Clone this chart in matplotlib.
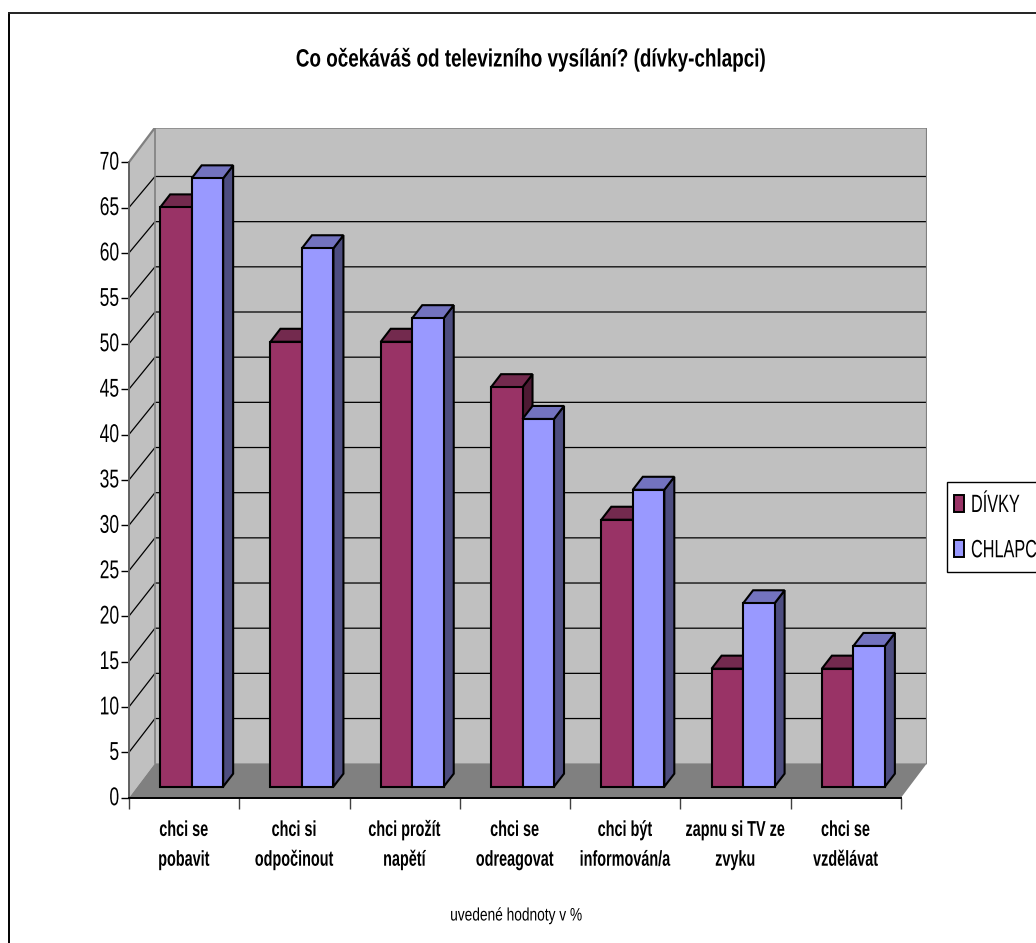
import matplotlib
matplotlib.use('Agg')
import matplotlib.pyplot as plt
from matplotlib.patches import Polygon, Patch, Rectangle
from matplotlib.patheffects import AbstractPathEffect
from matplotlib.transforms import Affine2D

categories = ['chci se\npobavit', 'chci si\nodpočinout', 'chci prožít\nnapětí', 'chci se\nodreagovat',
              'chci být\ninformován/a', 'zapnu si TV ze\nzvyku', 'chci se\nvzdělávat']
divky = [63.8, 49, 49, 44, 29.4, 13, 13]
chlapci = [67, 59.3, 51.6, 40.5, 32.7, 20.2, 15.5]
yticks = list(range(0, 75, 5))
series_names = ['DÍVKY', 'CHLAPCI']

plt.rcParams['font.family'] = ['Liberation Sans']

W, H = 1036, 943
# px per category and per unit on the front plane
px_x = 110.29
px_y = 9.08
left, bottom = 129, 797.7
right_back, top_back = 927, 128


class Squeeze(AbstractPathEffect):
    # Arial Narrow is not installed, so squeeze Liberation Sans sideways around x = cx (px)
    def __init__(self, sx, cx, dy=0):
        super().__init__()
        self.sx, self.cx, self.dy = sx, cx, dy

    def draw_path(self, renderer, gc, tpath, affine, rgbFace=None):
        t = Affine2D().translate(-self.cx, self.dy).scale(self.sx, 1).translate(self.cx, 0)
        renderer.draw_path(gc, tpath, affine + t, rgbFace)


fig = plt.figure(figsize=(W / 100, H / 100), dpi=100)
ax = fig.add_axes([left / W, 1 - bottom / H, (right_back - left) / W, (bottom - top_back) / H])
ax.set_xlim(0, (right_back - left) / px_x)
ax.set_ylim(0, (bottom - top_back) / px_y)
ax.patch.set_visible(False)

def ox(px):
    return px / px_x

def oy(px):
    return px / px_y

n = len(categories)
wall_dx, wall_dy = ox(26), oy(34.5)
top_val = yticks[-1]

# walls and floor
ax.add_patch(Polygon([(wall_dx, wall_dy), (n + wall_dx, wall_dy), (n + wall_dx, top_val + wall_dy), (wall_dx, top_val + wall_dy)],
                     fc='#C0C0C0', ec='none', zorder=1))
ax.add_patch(Polygon([(0, 0), (wall_dx, wall_dy), (wall_dx, top_val + wall_dy), (0, top_val)],
                     fc='#C0C0C0', ec='none', zorder=1))
for v in yticks[1:-1]:
    back = oy(34 - v * 0.046)
    ax.plot([0, wall_dx, n + wall_dx], [v, v + back, v + back], color='black', lw=0.9, zorder=2)
ax.plot([0, wall_dx, n + wall_dx, n + wall_dx], [top_val, top_val + wall_dy, top_val + wall_dy, wall_dy],
        color='#808080', lw=1.6, zorder=2)
ax.plot([wall_dx, wall_dx], [wall_dy, top_val + wall_dy], color='#808080', lw=1.2, zorder=2)
ax.add_patch(Polygon([(0, 0), (n, 0), (n + wall_dx, wall_dy), (wall_dx, wall_dy)], fc='#808080', ec='none', zorder=3))

def bar3d(x0, w, val, front, topc, side, z):
    bx, by = ox(7.5), oy(11)
    ddx, ddy = ox(10), oy(13)
    x0 = x0 + bx
    kw = dict(ec='black', lw=1.5, joinstyle='miter', zorder=z)
    ax.add_patch(Polygon([(x0 + w, by), (x0 + w + ddx, by + ddy), (x0 + w + ddx, by + val + ddy), (x0 + w, by + val)], fc=side, **kw))
    ax.add_patch(Polygon([(x0, by + val), (x0 + ddx, by + val + ddy), (x0 + w + ddx, by + val + ddy), (x0 + w, by + val)], fc=topc, **kw))
    ax.add_patch(Rectangle((x0, by), w, val, fc=front, **kw))

bar_w = 31.5 / px_x
for i in range(n):
    start = i + 0.5 - bar_w
    bar3d(start, bar_w, divky[i], '#993366', '#732A4E', '#4D1A33', 4 + i * 2)
    bar3d(start + bar_w, bar_w, chlapci[i], '#9999FF', '#7373BF', '#4D4D80', 5 + i * 2)

for s in ['top', 'right']:
    ax.spines[s].set_visible(False)
ax.spines['left'].set_bounds(0, top_val)
ax.spines['left'].set_color('#606060')
ax.spines['left'].set_linewidth(1.4)
ax.spines['bottom'].set_bounds(0, n)
ax.spines['bottom'].set_color('black')
ax.spines['bottom'].set_linewidth(1.4)
ax.spines['left'].set_zorder(30)
ax.spines['bottom'].set_zorder(30)

ax.set_yticks(yticks)
ax.set_yticklabels([str(v) for v in yticks])
ax.tick_params(axis='y', length=6, width=1, pad=1, labelsize=18.5, color='black')
for lab in ax.get_yticklabels():
    lab.set_path_effects([Squeeze(0.68, 119, 2)])
ax.set_xticks(range(n + 1))
ax.set_xticklabels([])
ax.tick_params(axis='x', length=8, width=1, color='#404040')

for i, cat in enumerate(categories):
    t = ax.annotate(cat, xy=(i + 0.5, 0), xytext=(0, -16), textcoords='offset points', ha='center', va='top',
                    fontsize=15.5, fontweight='bold', linespacing=1.55, annotation_clip=False)
    t.set_path_effects([Squeeze(0.67, left + (i + 0.5) * px_x - 1)])

title = fig.text(531 / W, 1 - 59 / H, 'Co očekáváš od televizního vysílání? (dívky-chlapci)', ha='center', va='center',
                 fontsize=18, fontweight='bold')
title.set_path_effects([Squeeze(0.755, 531)])
note = fig.text(516 / W, 1 - 916 / H, 'uvedené hodnoty v %', ha='center', va='center', fontsize=13)
note.set_path_effects([Squeeze(0.76, 516)])

# legend frame runs off the right edge of the picture
fig.add_artist(Rectangle((946.7 / W, 1 - 571.7 / H), 120 / W, 90 / H, transform=fig.transFigure, fc='white', ec='black', lw=1))
handles = [Patch(fc='#993366', ec='black', lw=1.4), Patch(fc='#9999FF', ec='black', lw=1.4)]
leg = fig.legend(handles, series_names, loc='upper left', bbox_to_anchor=(954 / W, 1 - 493 / H), borderaxespad=0, borderpad=0,
                 fontsize=18, frameon=False, handlelength=0.4, handleheight=0.67, handletextpad=0.28, labelspacing=0.85)
for txt in leg.get_texts():
    txt.set_path_effects([Squeeze(0.65, 971)])

# outer chart border, right and bottom sides are cut off in the picture
fig.add_artist(plt.Line2D([8.5 / W, 8.5 / W], [1 - 13 / H, 0], color='black', lw=1.4))
fig.add_artist(plt.Line2D([8.5 / W, 1], [1 - 13 / H, 1 - 13 / H], color='#222222', lw=1.4))

fig.savefig('out.png', dpi=100)
